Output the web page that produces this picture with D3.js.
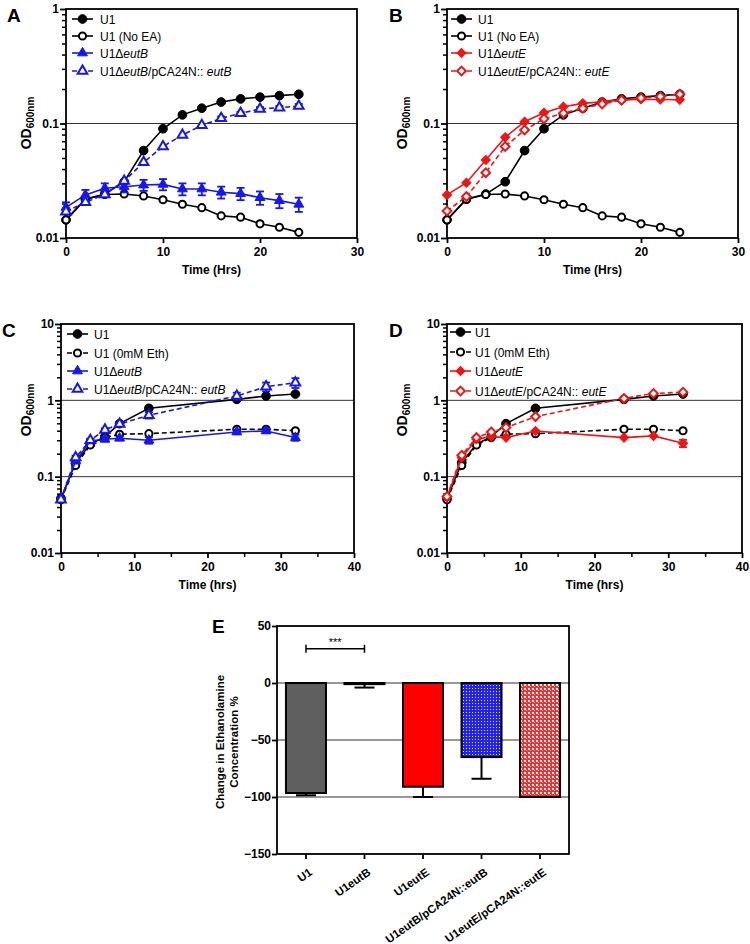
<!DOCTYPE html>
<html><head><meta charset="utf-8">
<script src="https://cdn.jsdelivr.net/npm/d3@7"></script>
<style>
body{margin:0;background:#fff;}
svg{display:block;font-family:"Liberation Sans",Arial,sans-serif;}
</style></head><body>
<svg id="fig" width="750" height="944"></svg>
<script>
// ---------------- DATA ----------------
const timeAB = [0,2,4,6,8,10,12,14,16,18,20,22,24];
const abU1      = [0.0144,0.0218,0.0242,0.031,0.058,0.090,0.119,0.136,0.154,0.164,0.170,0.175,0.180];
const abU1NoEA  = [0.0144,0.0218,0.0240,0.0242,0.0233,0.0216,0.0197,0.0184,0.0156,0.0152,0.0133,0.0124,0.0112];
const aEutB     = [0.0185,0.0238,0.0272,0.0280,0.0290,0.0294,0.0268,0.0268,0.0251,0.0244,0.0225,0.0212,0.0197];
const aEutBErr  = [0.002,0.0025,0.0028,0.003,0.0032,0.0033,0.0032,0.0032,0.003,0.003,0.003,0.003,0.0028];
const aEutBComp = [0.0170,0.0205,0.0240,0.0315,0.0458,0.0630,0.0794,0.0964,0.111,0.1227,0.134,0.1375,0.142];
const aEutBCompErr = [0,0,0,0,0,0,0,0,0.004,0.004,0.005,0.005,0.006];
const bEutE     = [0.0238,0.0304,0.048,0.0757,0.1037,0.124,0.140,0.150,0.155,0.160,0.163,0.162,0.161];
const bEutEComp = [0.0172,0.0230,0.0372,0.0630,0.0877,0.110,0.123,0.136,0.148,0.160,0.167,0.172,0.180];

const timeCD = [0,2,4,6,8,12,24,28,32];
const cdU1      = [0.052,0.153,0.266,0.335,0.495,0.786,1.03,1.14,1.21];
const cdU1NoEth = [0.050,0.140,0.260,0.325,0.360,0.366,0.418,0.418,0.400];
const cEutB     = [0.050,0.160,0.294,0.309,0.319,0.300,0.385,0.397,0.325];
const cEutBErr  = [0.003,0.01,0.015,0.02,0.02,0.03,0.025,0.025,0.03];
const cEutBComp = [0.050,0.178,0.300,0.410,0.490,0.637,1.14,1.51,1.70];
const cEutBCompErr = [0.003,0.01,0.015,0.02,0.02,0.06,0.12,0.2,0.25];
const dEutE     = [0.0535,0.178,0.309,0.335,0.325,0.397,0.325,0.342,0.274];
const dEutEErr  = [0,0,0,0,0,0,0,0,0.03];
const dEutEComp = [0.055,0.191,0.325,0.385,0.440,0.612,1.06,1.23,1.28];

const eCategories = ["U1","U1eutB","U1eutE","U1eutB/pCA24N::eutB","U1eutE/pCA24N::eutE"];
const eValues = [-96.5,-1,-91,-65,-100];
const eErrors = [2,3,9,19,0];

const logTicksAB = [0.01,0.1,1];
const logTickLabelsAB = ["0.01","0.1","1"];
const logTicksCD = [0.01,0.1,1,10];
const logTickLabelsCD = ["0.01","0.1","1","10"];
const xTicksAB = [0,10,20,30];
const xTicksCD = [0,10,20,30,40];
const eTicks = [50,0,-50,-100,-150];

// ---------------- DRAWING ----------------
const BLUE = "#1616f0", RED = "#f01414", BLACK = "#000";
const svg = d3.select("#fig");
const defs = svg.append("defs");
const pb = defs.append("pattern").attr("id","pBlue").attr("width",3).attr("height",3).attr("patternUnits","userSpaceOnUse");
pb.append("rect").attr("width",3).attr("height",3).attr("fill","#2020ff");
pb.append("rect").attr("x",1).attr("y",1).attr("width",1).attr("height",1).attr("fill","#fff");
const pr = defs.append("pattern").attr("id","pRed").attr("width",4).attr("height",4).attr("patternUnits","userSpaceOnUse");
pr.append("rect").attr("width",4).attr("height",4).attr("fill","#ff2a2a");
pr.append("rect").attr("x",0).attr("y",0).attr("width",2).attr("height",2).attr("fill","#ffffff");
pr.append("rect").attr("x",2).attr("y",2).attr("width",1).attr("height",1).attr("fill","#ffc8c8");

function marker(g, type, open, color, x, y) {
  let sym, size, rot = 0;
  if (type === "circle") { sym = d3.symbolCircle; size = open ? 40 : 60; }
  else if (type === "triangle") { sym = d3.symbolTriangle; size = open ? 40 : 42; }
  else { sym = d3.symbolSquare; size = open ? 38 : 42; rot = 45; }
  g.append("path").attr("d", d3.symbol().type(sym).size(size)())
    .attr("transform", `translate(${x},${y}) rotate(${rot})`)
    .attr("fill", open ? "#fff" : color)
    .attr("stroke", color).attr("stroke-width", open ? 2 : 1);
}

function logPanel(cfg) {
  const g = svg.append("g");
  const x = d3.scaleLinear().domain(cfg.xDomain).range([cfg.left, cfg.right]);
  const y = d3.scaleLog().domain(cfg.yDomain).range([cfg.bottom, cfg.top]);
  cfg.grid.forEach(v => g.append("line").attr("x1",cfg.left).attr("x2",cfg.right)
    .attr("y1",y(v)).attr("y2",y(v)).attr("stroke","#333").attr("stroke-width",1));
  const minors = [];
  for (let d = cfg.yDomain[0]; d < cfg.yDomain[1]*0.99; d *= 10)
    for (let k = 2; k <= 9; k++) minors.push(d*k);
  const ym = g.append("g").attr("transform",`translate(${cfg.left},0)`)
    .call(d3.axisLeft(y).tickValues(minors).tickSize(4).tickSizeOuter(0).tickFormat(""));
  ym.select(".domain").remove();
  ym.selectAll("line").attr("stroke-width",1.5);
  const ya = g.append("g").attr("transform",`translate(${cfg.left},0)`)
    .call(d3.axisLeft(y).tickValues(cfg.yTicks).tickSize(6).tickSizeOuter(0)
      .tickFormat((d,i)=>cfg.yTickLabels[i]));
  ya.select(".domain").remove();
  ya.selectAll("line").attr("stroke-width",1.8);
  ya.selectAll("text").attr("font-size",12).attr("font-weight","bold").attr("font-family","Liberation Sans, Arial")
    .attr("x",-7).attr("fill","#000");
  const xa = g.append("g").attr("transform",`translate(0,${cfg.bottom})`)
    .call(d3.axisBottom(x).tickValues(cfg.xTicks).tickSize(5).tickSizeOuter(0).tickFormat(d3.format("d")));
  xa.select(".domain").remove();
  xa.selectAll("line").attr("stroke-width",1.8);
  xa.selectAll("text").attr("font-size",12).attr("font-weight","bold").attr("font-family","Liberation Sans, Arial")
    .attr("y",9).attr("fill","#000");
  if (cfg.xMinor) {
    const xm = g.append("g").attr("transform",`translate(0,${cfg.bottom})`)
      .call(d3.axisBottom(x).tickValues(cfg.xMinor).tickSize(4).tickSizeOuter(0).tickFormat(""));
    xm.select(".domain").remove();
    xm.selectAll("line").attr("stroke-width",1.5);
  }
  g.append("rect").attr("x",cfg.left).attr("y",cfg.top)
    .attr("width",cfg.right-cfg.left).attr("height",cfg.bottom-cfg.top)
    .attr("fill","none").attr("stroke","#000").attr("stroke-width",1.8);
  const line = d3.line().x(d=>x(d[0])).y(d=>y(d[1]));
  cfg.series.forEach(s => {
    const pts = s.t.map((t,i)=>[t, s.v[i]]);
    g.append("path").attr("d", line(pts)).attr("fill","none")
      .attr("stroke", s.color).attr("stroke-width",1.6)
      .attr("stroke-dasharray", s.dash ? "5,3" : null);
    if (s.err) {
      s.t.forEach((t,i)=>{
        const e = s.err[i]; if (!e) return;
        const y1 = y(s.v[i]-e), y2 = y(s.v[i]+e), xx = x(t);
        g.append("line").attr("x1",xx).attr("x2",xx).attr("y1",y1).attr("y2",y2)
          .attr("stroke",s.color).attr("stroke-width",1.8);
        [y1,y2].forEach(yy => g.append("line").attr("x1",xx-4).attr("x2",xx+4)
          .attr("y1",yy).attr("y2",yy).attr("stroke",s.color).attr("stroke-width",1.8));
      });
    }
    pts.forEach(p => marker(g, s.marker, s.open, s.color, x(p[0]), y(p[1])));
  });
  cfg.series.forEach((s,i) => {
    const ly = cfg.legY[i];
    g.append("line").attr("x1",cfg.legX).attr("x2",cfg.legX+21).attr("y1",ly).attr("y2",ly)
      .attr("stroke",s.color).attr("stroke-width",1.6).attr("stroke-dasharray", s.dash ? "5,3" : null);
    marker(g, s.marker, s.open, s.color, cfg.legX+10.5, ly);
    const t = g.append("text").attr("x",cfg.legX+cfg.legTextDx).attr("y",ly+4.5)
      .attr("font-size",12).attr("fill","#000");
    s.label.forEach(part => t.append("tspan").text(part[0]).attr("font-style", part[1] ? "italic" : null));
  });
  g.append("text").attr("x",(cfg.left+cfg.right)/2).attr("y",cfg.bottom+36)
    .attr("text-anchor","middle").attr("font-size",12).attr("font-weight","bold").text(cfg.xTitle);
  const yl = g.append("text").attr("transform",`translate(${cfg.yTitleX},${cfg.yTitleY}) rotate(-90)`)
    .attr("text-anchor","middle").attr("font-weight","bold");
  yl.append("tspan").attr("font-size",14).text("OD");
  yl.append("tspan").attr("font-size",10).attr("dy",3).text("600nm");
  g.append("text").attr("x",cfg.letterX).attr("y",cfg.letterY).attr("font-size",19)
    .attr("font-weight","bold").text(cfg.letter);
}

const lblU1 = [["U1",false]];
logPanel({
  letter:"A", letterX:7, letterY:22,
  left:66, right:357, top:9, bottom:238,
  xDomain:[0,30], yDomain:[0.01,1], xTicks:xTicksAB,
  yTicks:logTicksAB, yTickLabels:logTickLabelsAB, grid:[0.1],
  xTitle:"Time (Hrs)", yTitleX:31, yTitleY:123,
  legX:72, legTextDx:28, legY:[19,36,53,71],
  series:[
    {t:timeAB, v:abU1, color:BLACK, marker:"circle", open:false, label:lblU1},
    {t:timeAB, v:abU1NoEA, color:BLACK, marker:"circle", open:true, label:[["U1 (No EA)",false]]},
    {t:timeAB, v:aEutB, err:aEutBErr, color:BLUE, marker:"triangle", open:false, label:[["U1\u0394",false],["eutB",true]]},
    {t:timeAB, v:aEutBComp, err:aEutBCompErr, color:BLUE, marker:"triangle", open:true, dash:true,
      label:[["U1\u0394",false],["eutB",true],["/pCA24N:: ",false],["eutB",true]]}
  ]
});
logPanel({
  letter:"B", letterX:389, letterY:22,
  left:447, right:738, top:9, bottom:238,
  xDomain:[0,30], yDomain:[0.01,1], xTicks:xTicksAB,
  yTicks:logTicksAB, yTickLabels:logTickLabelsAB, grid:[0.1],
  xTitle:"Time (Hrs)", yTitleX:407, yTitleY:123,
  legX:451, legTextDx:27, legY:[19,36,53,71],
  series:[
    {t:timeAB, v:abU1, color:BLACK, marker:"circle", open:false, label:lblU1},
    {t:timeAB, v:abU1NoEA, color:BLACK, marker:"circle", open:true, label:[["U1 (No EA)",false]]},
    {t:timeAB, v:bEutE, color:RED, marker:"diamond", open:false, label:[["U1\u0394",false],["eutE",true]]},
    {t:timeAB, v:bEutEComp, color:RED, marker:"diamond", open:true, dash:true,
      label:[["U1\u0394",false],["eutE",true],["/pCA24N:: ",false],["eutE",true]]}
  ]
});
logPanel({
  letter:"C", letterX:2, letterY:337,
  left:61, right:354, top:324, bottom:553,
  xDomain:[0,40], yDomain:[0.01,10], xTicks:xTicksCD, xMinor:[5,15,25,35],
  yTicks:logTicksCD, yTickLabels:logTickLabelsCD, grid:[1,0.1],
  xTitle:"Time (hrs)", yTitleX:31, yTitleY:410,
  legX:67, legTextDx:27, legY:[334,353,371,389],
  series:[
    {t:timeCD, v:cdU1, color:BLACK, marker:"circle", open:false, label:lblU1},
    {t:timeCD, v:cdU1NoEth, color:BLACK, marker:"circle", open:true, dash:true, label:[["U1 (0mM Eth)",false]]},
    {t:timeCD, v:cEutB, err:cEutBErr, color:BLUE, marker:"triangle", open:false, label:[["U1\u0394",false],["eutB",true]]},
    {t:timeCD, v:cEutBComp, err:cEutBCompErr, color:BLUE, marker:"triangle", open:true, dash:true,
      label:[["U1\u0394",false],["eutB",true],["/pCA24N:: ",false],["eutB",true]]}
  ]
});
logPanel({
  letter:"D", letterX:389, letterY:337,
  left:447, right:742, top:324, bottom:553,
  xDomain:[0,40], yDomain:[0.01,10], xTicks:xTicksCD, xMinor:[5,15,25,35],
  yTicks:logTicksCD, yTickLabels:logTickLabelsCD, grid:[1,0.1],
  xTitle:"Time (hrs)", yTitleX:407, yTitleY:410,
  legX:450, legTextDx:25, legY:[332,352,371,391],
  series:[
    {t:timeCD, v:cdU1, color:BLACK, marker:"circle", open:false, label:lblU1},
    {t:timeCD, v:cdU1NoEth, color:BLACK, marker:"circle", open:true, dash:true, label:[["U1 (0mM Eth)",false]]},
    {t:timeCD, v:dEutE, err:dEutEErr, color:RED, marker:"diamond", open:false, label:[["U1\u0394",false],["eutE",true]]},
    {t:timeCD, v:dEutEComp, color:RED, marker:"diamond", open:true, dash:true,
      label:[["U1\u0394",false],["eutE",true],["/pCA24N:: ",false],["eutE",true]]}
  ]
});

// ---------------- Panel E ----------------
(function(){
  const L=277, R=569, T=626, B=854;
  const g = svg.append("g");
  const x = d3.scaleBand().domain(eCategories).range([L,R]).paddingInner(0.316).paddingOuter(0.153);
  const y = d3.scaleLinear().domain([-150,50]).range([B,T]);
  [0,-50,-100].forEach(v => g.append("line").attr("x1",L).attr("x2",R).attr("y1",y(v)).attr("y2",y(v))
    .attr("stroke","#333").attr("stroke-width",1));
  const fills = ["#5f5f5f","#fff","#ff0000","url(#pBlue)","url(#pRed)"];
  eCategories.forEach((c,i)=>{
    const v = eValues[i], e = eErrors[i], cx = x(c)+x.bandwidth()/2;
    if (e) {
      g.append("line").attr("x1",cx).attr("x2",cx).attr("y1",y(v)).attr("y2",y(v-e)).attr("stroke","#000").attr("stroke-width",2);
      g.append("line").attr("x1",cx-10).attr("x2",cx+10).attr("y1",y(v-e)).attr("y2",y(v-e)).attr("stroke","#000").attr("stroke-width",2);
    }
    g.append("rect").attr("x",x(c)).attr("width",x.bandwidth())
      .attr("y",y(0)).attr("height",y(v)-y(0))
      .attr("fill",fills[i]).attr("stroke","#000").attr("stroke-width",2);
  });
  const ya = g.append("g").attr("transform",`translate(${L},0)`)
    .call(d3.axisLeft(y).tickValues(eTicks).tickSize(5).tickSizeOuter(0));
  ya.select(".domain").remove();
  ya.selectAll("line").attr("stroke-width",1.8);
  ya.selectAll("text").attr("font-size",12).attr("font-weight","bold").attr("x",-6).attr("fill","#000")
    .attr("font-family","Liberation Sans, Arial");
  const xa = g.append("g").attr("transform",`translate(0,${B})`)
    .call(d3.axisBottom(x).tickSize(5).tickSizeOuter(0));
  xa.select(".domain").remove();
  xa.selectAll("line").attr("stroke-width",1.8);
  xa.selectAll("text").attr("font-size",11.5).attr("font-weight","bold").attr("fill","#000")
    .attr("font-family","Liberation Sans, Arial")
    .attr("text-anchor","end").attr("y",0).attr("dy",0)
    .attr("transform","translate(7,20) rotate(-35)");
  g.append("rect").attr("x",L).attr("y",T).attr("width",R-L).attr("height",B-T)
    .attr("fill","none").attr("stroke","#000").attr("stroke-width",1.8);
  const x1 = x(eCategories[0])+x.bandwidth()/2, x2 = x(eCategories[1])+x.bandwidth()/2, yb = y(30);
  g.append("line").attr("x1",x1).attr("x2",x2).attr("y1",yb).attr("y2",yb).attr("stroke","#000").attr("stroke-width",1.5);
  [x1,x2].forEach(xx=>g.append("line").attr("x1",xx).attr("x2",xx).attr("y1",yb-4).attr("y2",yb+4).attr("stroke","#000").attr("stroke-width",1.5));
  g.append("text").attr("x",(x1+x2)/2).attr("y",yb-3).attr("text-anchor","middle").attr("font-size",11).text("***");
  const yt = g.append("text").attr("transform","translate(224,742) rotate(-90)")
    .attr("text-anchor","middle").attr("font-size",11.5).attr("font-weight","bold");
  yt.append("tspan").attr("x",0).attr("dy",0).text("Change in Ethanolamine");
  yt.append("tspan").attr("x",0).attr("dy",14).text("Concentration %");
  g.append("text").attr("x",212).attr("y",633).attr("font-size",19).attr("font-weight","bold").text("E");
})();
</script>
</body></html>
